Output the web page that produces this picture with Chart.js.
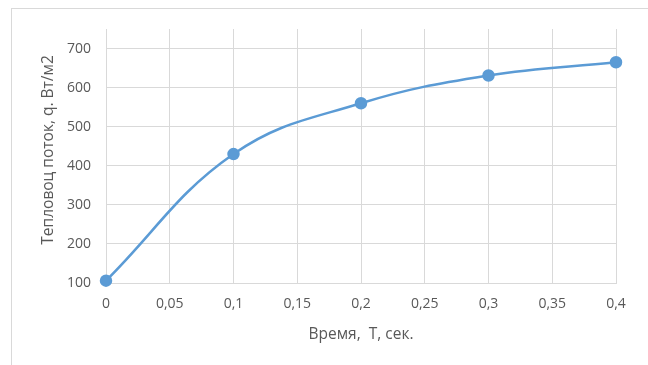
<!DOCTYPE html>
<html>
<head>
<meta charset="utf-8">
<script src="https://cdn.jsdelivr.net/npm/chart.js@4"></script>
<style>
  html, body { margin: 0; padding: 0; background: #fff; }
  #wrap { position: relative; width: 648px; height: 365px; overflow: hidden; }
  #frame { position: absolute; left: 11px; top: 8px; width: 700px; height: 400px;
           border-left: 1px solid #d9d9d9; border-top: 1px solid #d9d9d9; }
  #myChart { position: absolute; left: 0; top: 0; }
</style>
</head>
<body>
<div id="wrap">
  <div id="frame"></div>
  <canvas id="myChart" width="648" height="365"></canvas>
</div>
<script>
// data
var times = [0, 0.1, 0.2, 0.3, 0.4];
var flux = [106, 430, 560, 631, 665];
var yTicks = [100, 200, 300, 400, 500, 600, 700];
var xTicks = [0, 0.05, 0.1, 0.15, 0.2, 0.25, 0.3, 0.35, 0.4];

var pts = [];
for (var i = 0; i < times.length; i++)
  pts.push({ x: times[i], y: flux[i] });

var font = { family: "'Open Sans', sans-serif", size: 14 };
var titleFont = { family: "'Open Sans', sans-serif", size: 15.5 };
var grey = '#595959';

var ctx = document.getElementById("myChart");
var myChart = new Chart(ctx, {
  type: 'scatter',
  data: {
    datasets: [
      {
        data: pts,
        showLine: true,
        clip: false,
        borderColor: '#5b9bd5',
        backgroundColor: '#5b9bd5',
        borderWidth: 2.5,
        pointRadius: 5,
        pointHoverRadius: 5,
        tension: 0.4
      }
    ]
  },
  options: {
    responsive: false,
    animation: false,
    layout: { padding: { left: 0, top: 29, right: 32, bottom: 0 } },
    plugins: { legend: { display: false }, tooltip: { enabled: false } },
    scales: {
      x: {
        type: 'linear',
        min: 0,
        max: 0.4,
        afterBuildTicks: function (s) { s.ticks = xTicks.map(function (v) { return { value: v }; }); },
        afterFit: function (s) { s.height = 82; },
        ticks: {
          color: grey,
          font: font,
          padding: 13,
          callback: function (v) { return String(+v.toFixed(2)).replace('.', ','); }
        },
        grid: { color: '#d9d9d9', lineWidth: 1, drawTicks: false },
        border: { color: '#d9d9d9' },
        title: {
          display: true,
          text: 'Время,  Т, сек.',
          color: grey,
          font: titleFont,
          padding: { bottom: 21 }
        }
      },
      y: {
        min: 100,
        max: 750,
        afterBuildTicks: function (s) { s.ticks = yTicks.map(function (v) { return { value: v }; }); },
        afterFit: function (s) { s.width = 106; },
        ticks: { color: grey, font: font, padding: 15 },
        grid: { color: '#d9d9d9', lineWidth: 1, drawTicks: false },
        border: { display: false },
        title: {
          display: true,
          text: '   Тепловоц поток, q. Вт/м2',
          color: grey,
          font: titleFont,
          padding: { top: 39 }
        }
      }
    }
  }
});
</script>
</body>
</html>
